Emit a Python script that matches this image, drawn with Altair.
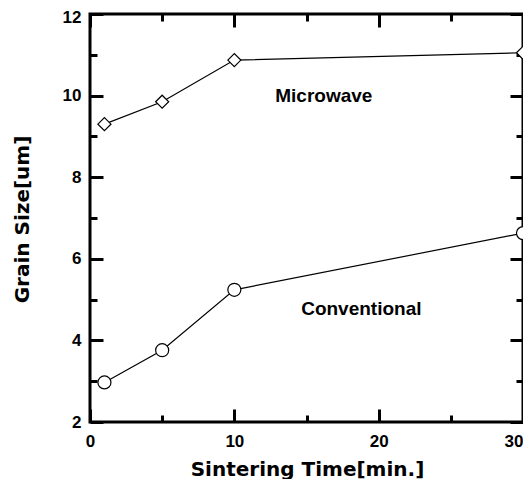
import altair as alt
import pandas as pd

time = [1, 5, 10, 30]
microwave = [9.3, 9.85, 10.87, 11.05]
conventional = [2.97, 3.76, 5.24, 6.63]

x_ticks = [0, 5, 10, 15, 20, 25, 30]
y_ticks = [2, 3, 4, 5, 6, 7, 8, 9, 10, 11, 12]

label_text = ["Microwave", "Conventional"]
label_x = [16.2, 18.8]
label_y = [10.0, 4.76]

df = pd.DataFrame({
    "time": time * 2,
    "size": microwave + conventional,
    "series": ["Microwave"] * len(time) + ["Conventional"] * len(time),
})
lab = pd.DataFrame({"text": label_text, "x": label_x, "y": label_y})

xs = alt.Scale(domain=[0, 30], nice=False, zero=False)
ys = alt.Scale(domain=[2, 12], nice=False, zero=False)

TICKFONT = "Liberation Sans"
TITLEFONT = "DejaVu Sans"


def tsize(test):
    return {"condition": {"test": test, "value": -13}, "value": -7}


def axis(orient, values, test, labels, **kw):
    return alt.Axis(
        orient=orient, values=values, domain=False, grid=False,
        ticks=True, tickColor="black", tickWidth=3, tickSize=tsize(test),
        labels=labels, labelFont=TICKFONT, labelFontWeight="bold",
        labelFontSize=17, labelColor="black",
        labelExpr=kw.pop("labelExpr", "datum.label"),
        **kw,
    )


base = alt.Chart(df)

x_bottom = alt.X("time:Q", scale=xs, axis=axis(
    "bottom", x_ticks, "datum.value % 10 === 0", True,
    labelExpr="datum.value % 10 === 0 ? datum.label : ''",
    labelAlign={"condition": {"test": "datum.value === 30", "value": "right"}, "value": "center"},
    labelPadding=24, labelFlush=False,
    title="Sintering Time[min.]", titleFont=TITLEFONT, titleFontWeight="bold",
    titleFontSize=20, titleColor="black", titleX=217, titleY=37, titleBaseline="top"))
y_left = alt.Y("size:Q", scale=ys, axis=axis(
    "left", y_ticks, "datum.value % 2 === 0", True,
    labelExpr="datum.value % 2 === 0 ? datum.label : ''",
    labelOffset={"condition": {"test": "datum.value === 12", "value": 3}, "value": 0},
    labelPadding=22, labelFlush=False,
    title="Grain Size[um]", titleFont=TITLEFONT, titleFontWeight="bold",
    titleFontSize=20, titleColor="black", titleX=-58, titleY=205))

lines = base.mark_line(color="black", strokeWidth=1.2).encode(
    x=x_bottom, y=y_left, detail="series:N")

pts_m = base.transform_filter(alt.datum.series == "Microwave").mark_point(
    shape="diamond", filled=True, fill="white", stroke="black", strokeWidth=1.2, size=170, opacity=1
).encode(x=alt.X("time:Q", scale=xs, axis=None), y=alt.Y("size:Q", scale=ys, axis=None))

pts_c = base.transform_filter(alt.datum.series == "Conventional").mark_point(
    shape="circle", filled=True, fill="white", stroke="black", strokeWidth=1.2, size=170, opacity=1
).encode(x=alt.X("time:Q", scale=xs, axis=None), y=alt.Y("size:Q", scale=ys, axis=None))

texts = alt.Chart(lab).mark_text(
    font="Liberation Sans", fontWeight="bold", fontSize=19, color="black"
).encode(x=alt.X("x:Q", scale=xs, axis=None), y=alt.Y("y:Q", scale=ys, axis=None), text="text:N")

frame = base.mark_point(opacity=0).encode(
    x=alt.X("time:Q", scale=xs, axis=axis("top", x_ticks, "datum.value % 10 === 0", False, title=None)),
    y=alt.Y("size:Q", scale=ys, axis=axis("right", y_ticks, "datum.value % 2 === 0", False, title=None)),
)

chart = alt.layer(lines, pts_m, pts_c, texts, frame).resolve_axis(
    x="independent", y="independent"
).properties(
    width=433, height=408,
    background="white",
    autosize=alt.AutoSizeParams(type="none"),
    padding={"left": 82, "top": 6, "right": 0, "bottom": 57},
).configure_view(stroke="black", strokeWidth=3)

chart.save("out.html", embed_options={"renderer": "svg", "actions": False})
